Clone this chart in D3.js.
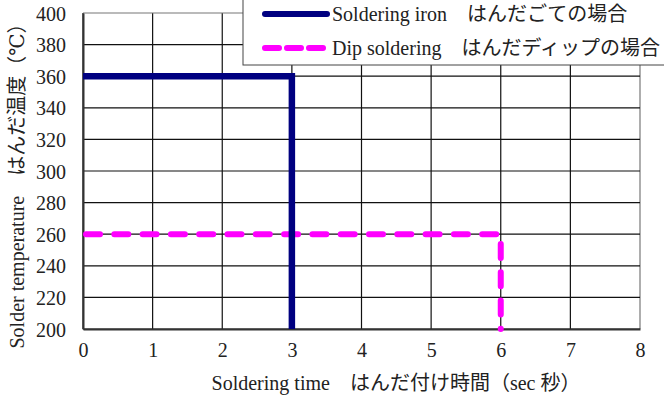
<!DOCTYPE html>
<html>
<head>
<meta charset="utf-8">
<script src="https://cdnjs.cloudflare.com/ajax/libs/d3/7.8.5/d3.min.js"></script>
<style>
  body { margin: 0; background: #fff; }
  svg text { font-family: "Liberation Serif", "DejaVu Serif", "Noto Sans CJK JP", serif; fill: #222; }
</style>
</head>
<body>
<svg id="chart" width="664" height="403"></svg>
<script>
var xTicks = [0, 1, 2, 3, 4, 5, 6, 7, 8];
var yTicks = [200, 220, 240, 260, 280, 300, 320, 340, 360, 380, 400];

var ironTime = [0, 3, 3];
var ironTemp = [360, 360, 200];
var dipTime = [0, 6, 6];
var dipTemp = [260, 260, 200];

var seriesNames = ["Soldering iron\u3000はんだごての場合", "Dip soldering\u3000はんだディップの場合"];
var xTitle = "Soldering time\u3000はんだ付け時間（sec 秒）";
var yTitle = "Solder temperature\u3000はんだ温度（\u2103）";

var svg = d3.select("#chart");
var margin = {top: 13, right: 24, bottom: 74, left: 83}
    , width = +svg.attr("width") - margin.left - margin.right
    , height = +svg.attr("height") - margin.top - margin.bottom
    , g = svg.append("g").attr("transform", "translate(" + margin.left + "," + margin.top + ")");

var x = d3.scaleLinear().domain([0, 8]).range([0, width]);
var y = d3.scaleLinear().domain([200, 400]).range([height, 0]);

// grid
g.append("g").selectAll("line")
    .data(xTicks)
    .enter().append("line")
    .attr("x1", function(d) { return x(d); })
    .attr("x2", function(d) { return x(d); })
    .attr("y1", 0).attr("y2", height)
    .attr("stroke", function(d) { return d === 8 ? "#777" : "#111"; })
    .attr("stroke-width", 1.2);

g.append("g").selectAll("line")
    .data(yTicks)
    .enter().append("line")
    .attr("x1", 0).attr("x2", width)
    .attr("y1", function(d) { return y(d); })
    .attr("y2", function(d) { return y(d); })
    .attr("stroke", function(d) { return d === 400 ? "#777" : "#111"; })
    .attr("stroke-width", 1.2);

// axes
var xAxis = g.append("g")
    .attr("transform", "translate(0," + height + ")")
    .call(d3.axisBottom(x).tickValues(xTicks).tickSize(0).tickPadding(14).tickFormat(d3.format("d")));
var yAxis = g.append("g")
    .call(d3.axisLeft(y).tickValues(yTicks).tickSize(0).tickPadding(17).tickFormat(d3.format("d")));

[xAxis, yAxis].forEach(function(a) {
    a.attr("font-family", null).attr("font-size", null);
    a.select(".domain").attr("stroke", "#333").attr("stroke-width", 2);
    a.selectAll("text").attr("font-size", 20).attr("fill", "#222");
});
yAxis.selectAll("text").attr("dy", "0.35em");

var line = d3.line()
    .x(function(d) { return x(d[0]); })
    .y(function(d) { return y(d[1]); });

var iron = d3.zip(ironTime, ironTemp);
var dip = d3.zip(dipTime, dipTemp);

g.append("path")
    .attr("d", line(dip))
    .attr("fill", "none")
    .attr("stroke", "#ff00ff")
    .attr("stroke-width", 6)
    .attr("stroke-linecap", "round")
    .attr("stroke-dasharray", "14,14.3")
    .attr("stroke-dashoffset", -3);

g.append("path")
    .attr("d", line(iron))
    .attr("fill", "none")
    .attr("stroke", "#000080")
    .attr("stroke-width", 6.5);

// legend
var lg = svg.append("g").attr("transform", "translate(243,-2)");
lg.append("rect")
    .attr("x", 0).attr("y", 0)
    .attr("width", 430).attr("height", 67)
    .attr("fill", "#fff")
    .attr("stroke", "#444")
    .attr("stroke-width", 1);

var legendRows = [
    {name: seriesNames[0], color: "#000080", dash: null},
    {name: seriesNames[1], color: "#ff00ff", dash: "14,8"}
];
legendRows.forEach(function(r, i) {
    var yy = 16 + i * 34;
    lg.append("line")
        .attr("x1", 22).attr("x2", 84)
        .attr("y1", yy).attr("y2", yy)
        .attr("stroke", r.color)
        .attr("stroke-width", 6)
        .attr("stroke-linecap", "round")
        .attr("stroke-dasharray", r.dash);
    lg.append("text")
        .attr("x", 89).attr("y", yy)
        .attr("dy", "0.35em")
        .attr("font-size", 20)
        .text(r.name);
});

// titles
svg.append("text")
    .attr("x", 396)
    .attr("y", 390)
    .attr("text-anchor", "middle")
    .attr("font-size", 20)
    .text(xTitle);

svg.append("text")
    .attr("transform", "translate(24,181) rotate(-90)")
    .attr("text-anchor", "middle")
    .attr("font-size", 20)
    .text(yTitle);
</script>
</body>
</html>
